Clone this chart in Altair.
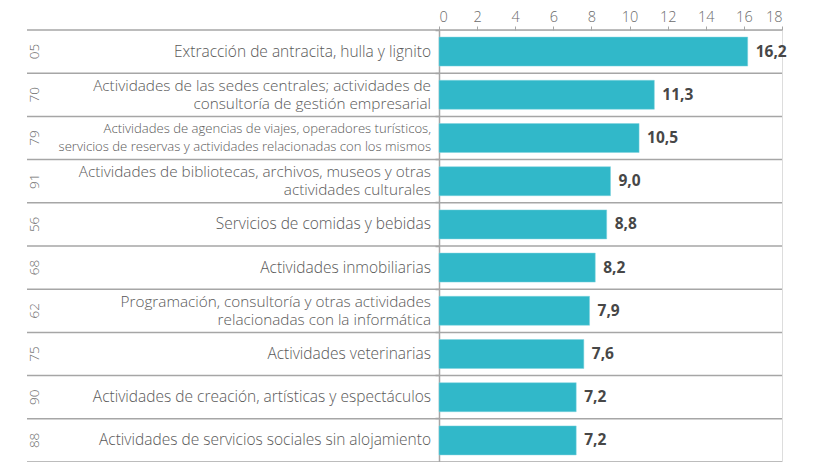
import altair as alt
import pandas as pd

codes = ["05", "70", "79", "91", "56", "68", "62", "75", "90", "88"]
labels = [
    "Extracción de antracita, hulla y lignito",
    "Actividades de las sedes centrales; actividades de\nconsultoría de gestión empresarial",
    "Actividades de agencias de viajes, operadores turísticos,\nservicios de reservas y actividades relacionadas con los mismos",
    "Actividades de bibliotecas, archivos, museos y otras\nactividades culturales",
    "Servicios de comidas y bebidas",
    "Actividades inmobiliarias",
    "Programación, consultoría y otras actividades\nrelacionadas con la informática",
    "Actividades veterinarias",
    "Actividades de creación, artísticas y espectáculos",
    "Actividades de servicios sociales sin alojamiento",
]
values = [16.2, 11.3, 10.5, 9.0, 8.8, 8.2, 7.9, 7.6, 7.2, 7.2]
x_ticks = [0, 2, 4, 6, 8, 10, 12, 14, 16, 18]

df = pd.DataFrame({"code": codes, "label": labels, "value": values})

W, H = 343, 432
FONT = "Open Sans"
TXT = "#595959"
LINE = "#a6a6a6"
BAR = "#31b8c9"

y_enc = alt.Y("code:N", sort=codes,
              scale=alt.Scale(paddingInner=0, paddingOuter=0),
              axis=alt.Axis(title=None, labels=False, bandPosition=0, tickSize=4,
                            tickColor=LINE, domainColor=LINE, domainWidth=1.5,
                            tickWidth=1.5, grid=False))
x_enc = alt.X("value:Q", scale=alt.Scale(domain=[0, 18], nice=False),
              axis=alt.Axis(orient="top", title=None, values=x_ticks, domain=False,
                            tickSize=4, tickColor=LINE, labelColor="#6b6b6b",
                            labelFontSize=14.5, labelFont=FONT, labelPadding=2,
                            labelOverlap=False, labelFontWeight=300, grid=False))

base = alt.Chart(df)

bars = base.mark_bar(color=BAR, size=29, stroke="#7fd3de", strokeWidth=0.5).encode(
    x=x_enc, y=y_enc)

seps = base.mark_rule(color=LINE, strokeWidth=1.5).encode(
    y=alt.Y("code:N", sort=codes, bandPosition=0),
    x=alt.value(-412), x2=alt.value(W))

bottom = base.transform_filter(alt.datum.code == codes[-1]).mark_rule(
    color=LINE, strokeWidth=1.5).encode(
    y=alt.Y("code:N", sort=codes, bandPosition=1),
    x=alt.value(-412), x2=alt.value(W))

val_text = base.transform_calculate(
    txt="replace(format(datum.value, '.1f'), '.', ',')"
).mark_text(align="left", baseline="middle", dx=8, font=FONT, fontWeight="bold",
            fontSize=15.5, color="#474747").encode(
    x=x_enc, y=alt.Y("code:N", sort=codes), text="txt:N")

multi = "indexof(datum.label, '\\n') >= 0"

cat_single = base.transform_filter("!(" + multi + ")").mark_text(
    align="right", baseline="middle", font=FONT, color=TXT, fontSize=15.5,
    fontWeight=300).encode(
    x=alt.value(-8), y=alt.Y("code:N", sort=codes), text="label:N")

cat_multi = base.transform_filter(multi).mark_text(
    align="right", baseline="middle", lineBreak="\n", dy=-8.75, lineHeight=17.5,
    font=FONT, color=TXT, fontWeight=300).encode(
    x=alt.value(-8), y=alt.Y("code:N", sort=codes), text="label:N",
    size=alt.condition(alt.datum.code == "79", alt.value(13.1), alt.value(15.3)))

code_text = base.mark_text(align="center", baseline="middle", angle=270,
                           font=FONT, fontSize=13.5, fontWeight=300,
                           color="#6b6b6b").encode(
    x=alt.value(-404), y=alt.Y("code:N", sort=codes), text="code:N")

chart = alt.layer(seps, bottom, bars, val_text, cat_single, cat_multi, code_text).properties(
    width=W, height=H,
    autosize=alt.AutoSizeParams(type="none"),
    padding={"left": 431, "top": 22, "right": 30, "bottom": 0},
).configure_view(stroke=None).configure(font=FONT)

chart.save("out.html", embed_options={"renderer": "svg", "actions": False})
